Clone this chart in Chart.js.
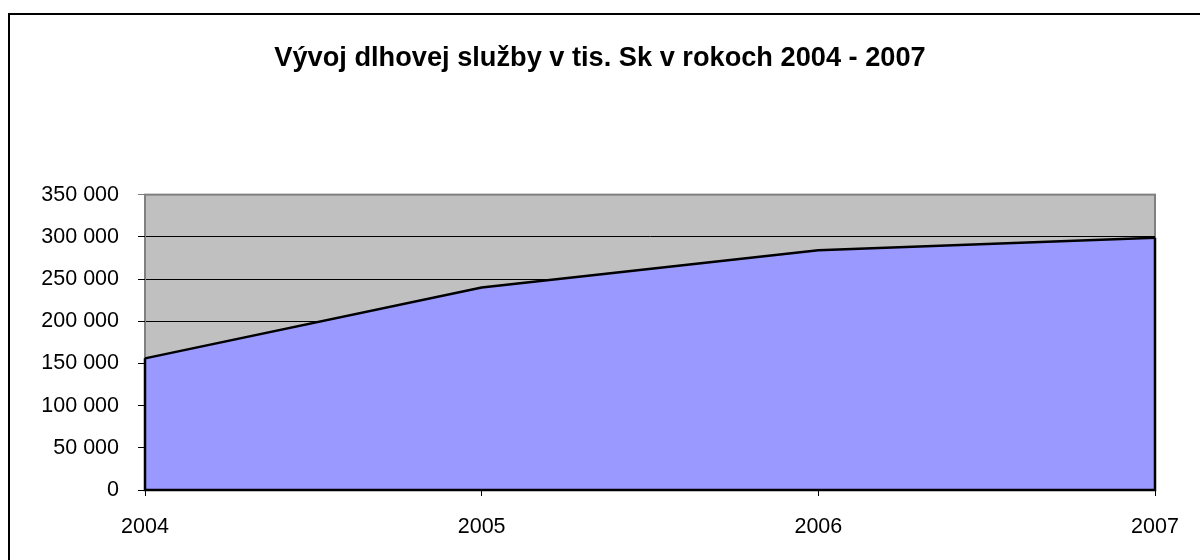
<!DOCTYPE html>
<html>
<head>
<meta charset="utf-8">
<script src="https://cdn.jsdelivr.net/npm/chart.js@4.4.1/dist/chart.umd.min.js"></script>
<style>
  html, body { margin: 0; padding: 0; background: #fff; }
  #wrap { position: relative; width: 1200px; height: 560px; overflow: hidden; }
  #frame {
    position: absolute; left: 8px; top: 13px; width: 1300px; height: 700px;
    border-left: 2px solid #000; border-top: 2px solid #000; pointer-events: none;
  }
</style>
</head>
<body>
<div id="wrap">
  <canvas id="chart" width="1200" height="560"></canvas>
  <div id="frame"></div>
</div>
<script>
const years = ['2004', '2005', '2006', '2007'];
const debtService = [156000, 240000, 284000, 299000];
const yTicks = [0, 50000, 100000, 150000, 200000, 250000, 300000, 350000];
const chartTitle = 'Vývoj dlhovej služby v tis. Sk v rokoch 2004 - 2007';

function formatThousands(v) {
  return String(v).replace(/\B(?=(\d{3})+(?!\d))/g, ' ');
}

// gray plot background + frame, drawn before everything else
const plotBackground = {
  id: 'plotBackground',
  beforeDraw(chart) {
    const { ctx, chartArea: a } = chart;
    ctx.save();
    ctx.fillStyle = '#C0C0C0';
    ctx.fillRect(a.left, a.top, a.right - a.left, a.bottom - a.top);
    ctx.strokeStyle = '#808080';
    ctx.lineWidth = 2;
    ctx.strokeRect(a.left, a.top, a.right - a.left, a.bottom - a.top);
    ctx.restore();
  }
};

// y labels stick out left of the axis box; widen the box so they are not clipped
const labelRoom = {
  id: 'labelRoom',
  afterLayout(chart) {
    chart.scales.y.left = 0;
  }
};

// outline the area polygon's sides and bottom like the original
const areaOutline = {
  id: 'areaOutline',
  afterDatasetsDraw(chart) {
    const pts = chart.getDatasetMeta(0).data;
    if (!pts.length) return;
    const base = chart.scales.y.getPixelForValue(0);
    const first = pts[0], last = pts[pts.length - 1];
    const ctx = chart.ctx;
    ctx.save();
    ctx.strokeStyle = '#000';
    ctx.lineWidth = 2.5;
    ctx.beginPath();
    ctx.moveTo(first.x, first.y);
    ctx.lineTo(first.x, base);
    ctx.lineTo(last.x, base);
    ctx.lineTo(last.x, last.y);
    ctx.stroke();
    ctx.restore();
  }
};

const tickFont = { family: '"Liberation Sans", Arial, sans-serif', size: 21.5 };

new Chart(document.getElementById('chart'), {
  type: 'line',
  data: {
    labels: years,
    datasets: [{
      data: debtService,
      borderColor: '#000',
      borderWidth: 2.5,
      backgroundColor: '#9999FF',
      fill: 'origin',
      tension: 0,
      pointRadius: 0
    }]
  },
  options: {
    responsive: false,
    animation: false,
    layout: { padding: { left: 45, right: 45, top: 0, bottom: 0 } },
    plugins: {
      legend: { display: false },
      tooltip: { enabled: false },
      title: {
        display: true,
        text: chartTitle,
        color: '#000',
        font: { family: '"Liberation Sans", Arial, sans-serif', size: 27.2, weight: 'bold' },
        padding: { top: 42, bottom: 120 }
      }
    },
    scales: {
      x: {
        offset: false,
        grid: { display: true, drawOnChartArea: false, drawTicks: true, tickLength: 6, color: '#000' },
        border: { display: true, color: '#000', width: 2 },
        ticks: { color: '#000', font: tickFont, padding: 18, maxRotation: 0 },
        afterFit(scale) { scale.height = 70; }
      },
      y: {
        min: 0,
        max: 350000,
        afterBuildTicks(scale) { scale.ticks = yTicks.map(v => ({ value: v })); },
        grid: {
          color: ctx => (ctx.tick && ctx.tick.value === 350000 ? '#808080' : '#000'),
          lineWidth: 1,
          tickLength: 7,
          drawTicks: true
        },
        border: { display: true, color: '#808080', width: 1 },
        ticks: { color: '#000', font: tickFont, padding: 19, callback: v => formatThousands(v) },
        afterFit(scale) { scale.width = 100; }
      }
    }
  },
  plugins: [plotBackground, labelRoom, areaOutline]
});
</script>
</body>
</html>
